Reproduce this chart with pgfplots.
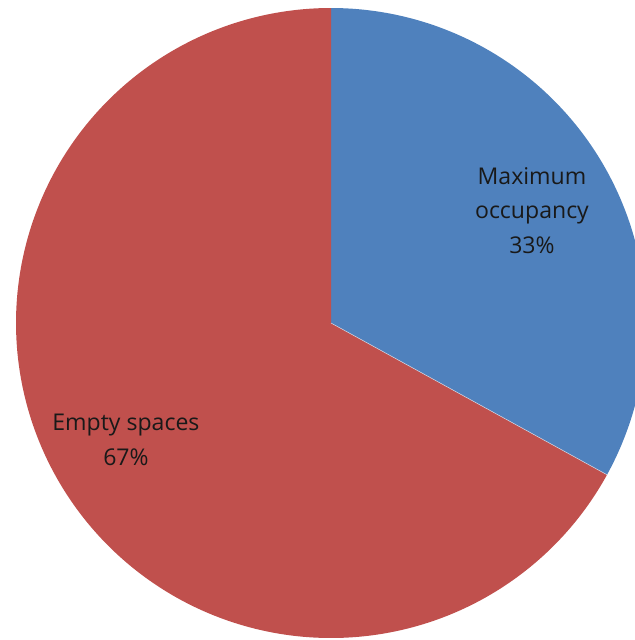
\documentclass[border=0pt]{standalone}
\usepackage{pgfplots}
\pgfplotsset{compat=1.18}
\usepackage{fontspec}
\setmainfont{Open Sans}
\definecolor{pieblue}{HTML}{4F81BD}
\definecolor{piered}{HTML}{C0504D}
% values (percent)
\def\valA{33}% Maximum occupancy
\def\valB{67}% Empty spaces
\begin{document}
\begin{tikzpicture}
\begin{axis}[
  scale only axis,
  width=476.25pt, height=480pt,
  xmin=-1.0508, xmax=0.9651,
  ymin=-1.0063, ymax=1.0254,
  hide axis, clip=true,
]
\pgfmathsetmacro{\angA}{90-3.6*\valA}
\pgfmathsetmacro{\angB}{\angA-3.6*\valB}
\addplot[fill=pieblue, draw=none, domain=\angA:90, samples=181]
  ({cos(x)},{sin(x)}) -- (axis cs:0,0) -- cycle;
\addplot[fill=piered, draw=none, domain=\angB:\angA, samples=361]
  ({cos(x)},{sin(x)}) -- (axis cs:0,0) -- cycle;
\draw[white!70!pieblue, line width=0.4pt] (axis cs:0,0) -- (axis cs:{cos(\angA)},{sin(\angA)});
\node[align=center, font=\fontsize{17.3}{26}\selectfont, text=black!90] at (axis cs:0.638,0.357) {Maximum\\occupancy\\33\%};
\node[align=center, font=\fontsize{17.3}{26}\selectfont, text=black!90] at (axis cs:-0.651,-0.370) {Empty spaces\\67\%};
\end{axis}
\pgfresetboundingbox
\useasboundingbox (current axis.south west) rectangle (current axis.north east);
\end{tikzpicture}
\end{document}
